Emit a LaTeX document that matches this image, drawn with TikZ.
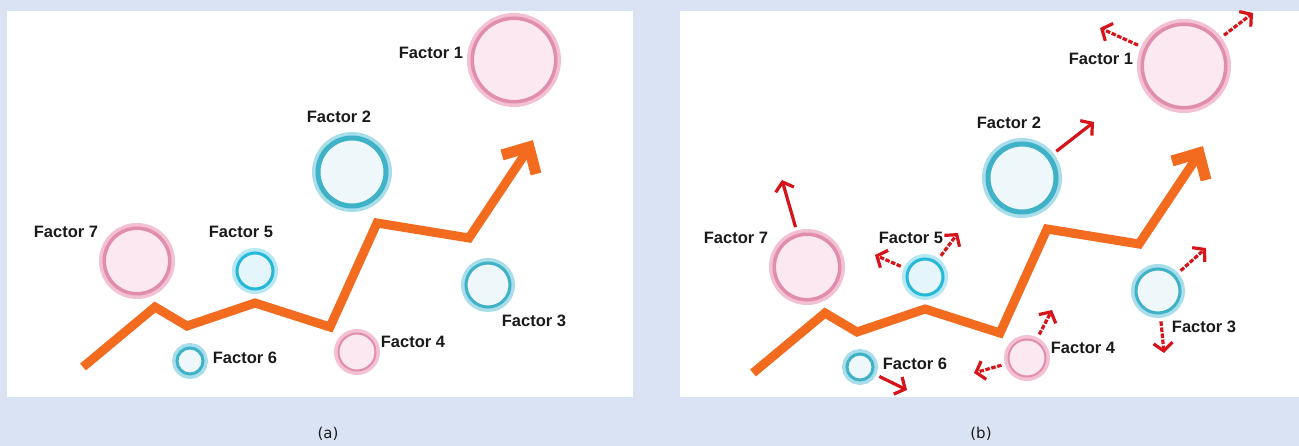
\documentclass[tikz,border=0pt]{standalone}
\usepackage{fontspec}
\setmainfont{Liberation Sans}
\newfontfamily\capfont{DejaVu Sans}
\usetikzlibrary{arrows.meta}
\definecolor{page}{HTML}{DAE3F3}
\definecolor{trend}{HTML}{F26B1F}
\definecolor{pinkhalo}{HTML}{F4C0D3}
\definecolor{pinkring}{HTML}{E08DAE}
\definecolor{pinkfill}{HTML}{FCE8F0}
\definecolor{tealhalo}{HTML}{A8DDEA}
\definecolor{tealring}{HTML}{40B2C7}
\definecolor{tealfill}{HTML}{EEF7FA}
\definecolor{cyanhalo}{HTML}{B6E8F4}
\definecolor{cyanring}{HTML}{26B8D9}
\definecolor{cyanfill}{HTML}{E4F5FB}
\definecolor{push}{HTML}{D7141A}
\definecolor{ink}{HTML}{1A1A1A}
% #1 name, #2 x, #3 y, #4 outer radius, #5 colour set, #6 ring width
\newcommand{\bubble}[6]{%
  \pgfmathsetmacro{\bsize}{2*#4-#6-7}
  \pgfmathsetmacro{\bhalo}{#6+7}
  \node[circle,inner sep=0pt,minimum size=\bsize pt,fill=#5fill,draw=#5ring,line width=#6pt,
        preaction={draw=#5halo,line width=\bhalo pt}] (#1) at (#2,#3) {};}
% the rising line, the seven factors and their labels
\newcommand{\panel}[1]{%
  \draw[trendline] (83,367) -- (155,307) -- (187,326) -- (255,303) -- (330,327)
    -- (377,223) -- (469,238) -- (529,148);
  \draw[trendline,line width=11pt] (502,155) -- (529,147) -- (536,174);
  \bubble{#1f1}{514}{60}{47}{pink}{3.5}
  \bubble{#1f2}{352}{172}{40}{teal}{5}
  \bubble{#1f3}{488}{285}{27}{teal}{3}
  \bubble{#1f4}{357}{352}{23}{pink}{2}
  \bubble{#1f5}{255}{271}{23}{cyan}{3}
  \bubble{#1f6}{190}{361}{18}{teal}{3}
  \bubble{#1f7}{137}{261}{38}{pink}{3.5}
  \node[factor] (#1l1) at (431,53)  {Factor 1};
  \node[factor] (#1l2) at (339,117) {Factor 2};
  \node[factor] (#1l3) at (534,321) {Factor 3};
  \node[factor] (#1l4) at (413,342) {Factor 4};
  \node[factor] (#1l5) at (241,232) {Factor 5};
  \node[factor] (#1l6) at (245,358) {Factor 6};
  \node[factor] (#1l7) at (66,232)  {Factor 7};}

\begin{document}
\begin{tikzpicture}[x=1pt,y=-1pt,
  trendline/.style={draw=trend,line width=9pt,miter limit=10},
  factor/.style={font=\bfseries\fontsize{16.5pt}{19pt}\selectfont,text=ink,inner sep=0pt},
  caption/.style={font=\capfont\fontsize{15pt}{17pt}\selectfont,text=ink,inner sep=0pt},
  pushline/.style={draw=push,line width=3.2pt,-{Straight Barb[length=8pt,width=19pt]},shorten <=7pt},
  pushdash/.style={pushline,dash pattern=on 4.5pt off 1.6pt}]

\fill[page] (0,0) rectangle (1299,446);
\useasboundingbox (0,0) rectangle (1299,446);
\fill[white] (7,11) rectangle (633,397);
\fill[white] (680,11) rectangle (1299,397);

% ---------------- (a) ------------------------------------------------------
\panel{a}
\node[caption] (capa) at (328,434) {(a)};

% ---------------- (b): same picture, with the pushes ------------------------
\begin{scope}[shift={(670,6)}]
  \panel{b}
  \coordinate (t1a) at (430,22);  \coordinate (t1b) at (583,7);
  \coordinate (t2)  at (424,116);
  \coordinate (t3a) at (536,242); \coordinate (t3b) at (494,347);
  \coordinate (t4a) at (304,367); \coordinate (t4b) at (382,304);
  \coordinate (t5a) at (205,249); \coordinate (t5b) at (288,227);
  \coordinate (t6)  at (237,384);
  \coordinate (t7)  at (112,174);
  \draw[pushdash] (bf1) -- (t1a);
  \draw[pushdash] (bf1) -- (t1b);
  \draw[pushline] (bf2) -- (t2);
  \draw[pushdash] (bf3) -- (t3a);
  \draw[pushdash] (bf3) -- (t3b);
  \draw[pushdash] (bf4) -- (t4a);
  \draw[pushdash] (bf4) -- (t4b);
  \draw[pushdash] (bf5) -- (t5a);
  \draw[pushdash] (bf5) -- (t5b);
  \draw[pushline] (bf6) -- (t6);
  \draw[pushline] (bf7) -- (t7);
\end{scope}
\node[caption] (capb) at (981,434) {(b)};

\end{tikzpicture}
\end{document}
